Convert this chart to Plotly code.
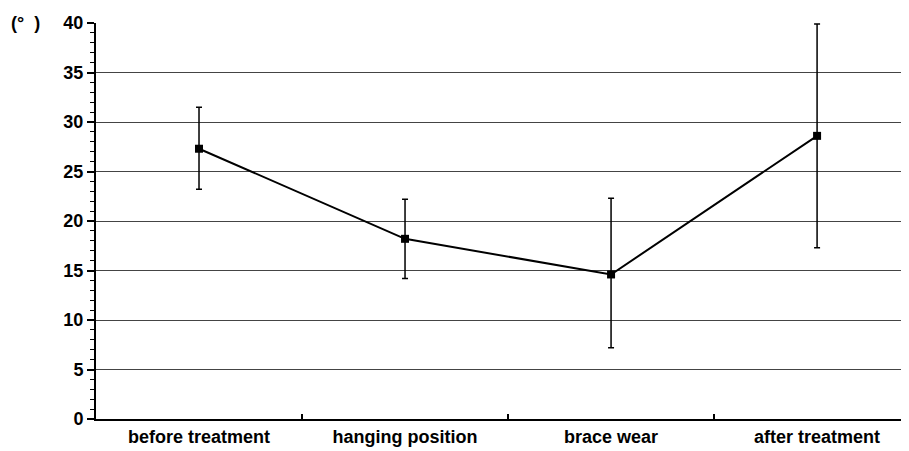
import plotly.graph_objects as go

categories = ["before treatment", "hanging position", "brace wear", "after treatment"]
means = [27.3, 18.2, 14.6, 28.6]
err_plus = [4.2, 4.0, 7.7, 11.3]
err_minus = [4.1, 4.0, 7.4, 11.3]
y_ticks = [0, 5, 10, 15, 20, 25, 30, 35, 40]

fig = go.Figure()
fig.add_trace(go.Scatter(
    x=categories, y=means, mode="lines+markers",
    line=dict(color="black", width=2),
    marker=dict(symbol="square", size=8, color="black"),
    error_y=dict(type="data", symmetric=False, array=err_plus, arrayminus=err_minus,
                 color="black", thickness=1.5, width=3),
    showlegend=False,
))

fig.update_layout(
    width=909, height=451,
    margin=dict(l=88, r=0, t=15, b=40, autoexpand=False),
    paper_bgcolor="white", plot_bgcolor="white",
    font=dict(family="Liberation Sans, Arial", color="black"),
    xaxis=dict(
        type="category", range=[-0.5, 3.485],
        tickvals=categories, ticktext=[f"<b>{c}</b>" for c in categories],
        showline=True, linecolor="black", linewidth=2,
        ticks="inside", tickson="boundaries", ticklen=5, tickcolor="black", tickwidth=1.5,
        showgrid=False,
        tickfont=dict(size=18),
    ),
    yaxis=dict(
        range=[0, 40], tickvals=y_ticks, ticktext=[f"<b>{v}</b>" for v in y_ticks],
        showline=True, linecolor="black", linewidth=2,
        ticks="outside", ticklen=7, tickcolor="black", tickwidth=1.5,
        minor=dict(dtick=1, ticks="outside", ticklen=4, tickcolor="black", tickwidth=1, showgrid=False),
        showgrid=True, gridcolor="#444444", gridwidth=1,
        tickfont=dict(size=18),
        zeroline=False,
    ),
)

fig.add_annotation(text="<b>(°  )</b>", x=(9 - 96) / 821, y=1.0,
                   xref="x domain", yref="y domain",
                   showarrow=False, font=dict(size=18), xanchor="left", yanchor="middle")

fig.write_html("out.html")
